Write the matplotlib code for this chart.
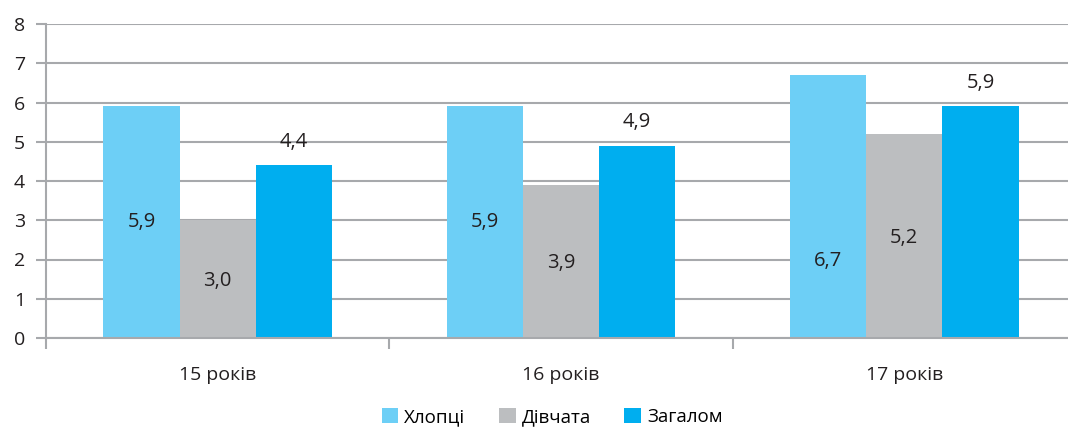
import matplotlib.pyplot as plt
import numpy as np

plt.rcParams['font.family'] = ['Open Sans', 'DejaVu Sans']

vikh = ['15 років', '16 років', '17 років']
khloptsi = [5.9, 5.9, 6.7]
divchata = [3.0, 3.9, 5.2]
zagalom = [4.4, 4.9, 5.9]
series_names = ['Хлопці', 'Дівчата', 'Загалом']

kolory = ['#6DCFF6', '#BCBEC0', '#00AEEF']
sirij = '#A7A9AC'
tekst = '#231F20'

fig = plt.figure(figsize=(10.68, 4.28), dpi=100)
ax = fig.add_axes([46 / 1068, 90 / 428, 1030 / 1068, 314 / 428])

x = np.arange(len(vikh))
w = 0.222
dani = [khloptsi, divchata, zagalom]
for i, (vals, c, name) in enumerate(zip(dani, kolory, series_names)):
    ax.bar(x + (i - 1) * w, vals, width=w, color=c, label=name, zorder=2)

# pidpysy: svitlo-blakytni ta siri - vseredyni, syni - nad stovpchykom
for xi, v in zip(x, khloptsi):
    y = v / 2 if v < 6.5 else v / 2 - 1.4
    ax.text(xi - w, y, f'{v:.1f}'.replace('.', ','), ha='center', va='center',
            fontsize=14.5, color=tekst, zorder=3)
for xi, v in zip(x, divchata):
    ax.text(xi, v / 2 - 0.05, f'{v:.1f}'.replace('.', ','), ha='center', va='center',
            fontsize=14.5, color=tekst, zorder=3)
for xi, v in zip(x, zagalom):
    ax.text(xi + w, v + 0.6, f'{v:.1f}'.replace('.', ','), ha='center', va='center',
            fontsize=14.5, color=tekst, zorder=3)

ax.set_xlim(-0.5, 2.5)
ax.set_ylim(0, 8)
ax.set_yticks(range(0, 9))
ax.yaxis.grid(True, color=sirij, linewidth=1.5, zorder=0)
ax.set_axisbelow(True)

ax.set_xticks(x)
ax.set_xticklabels(vikh, fontsize=14, color=tekst)
ax.set_xticks([-0.5, 0.5, 1.5], minor=True)
ax.tick_params(axis='x', which='major', length=0, pad=20)
ax.tick_params(axis='x', which='minor', length=8, width=1.5, color=sirij)
ax.tick_params(axis='y', length=7, width=1.5, color=sirij, labelsize=14,
               labelcolor=tekst, pad=8)

for s in ['top', 'right']:
    ax.spines[s].set_visible(False)
for s in ['left', 'bottom']:
    ax.spines[s].set_color(sirij)
    ax.spines[s].set_linewidth(1.5)

fig.legend(loc='center', bbox_to_anchor=(552 / 1068, 1 - 417 / 428), ncol=3,
           frameon=False, fontsize=13.5, handlelength=0.9, handleheight=0.9,
           handletextpad=0.3, columnspacing=1.8)

fig.savefig('out.png', dpi=100)
